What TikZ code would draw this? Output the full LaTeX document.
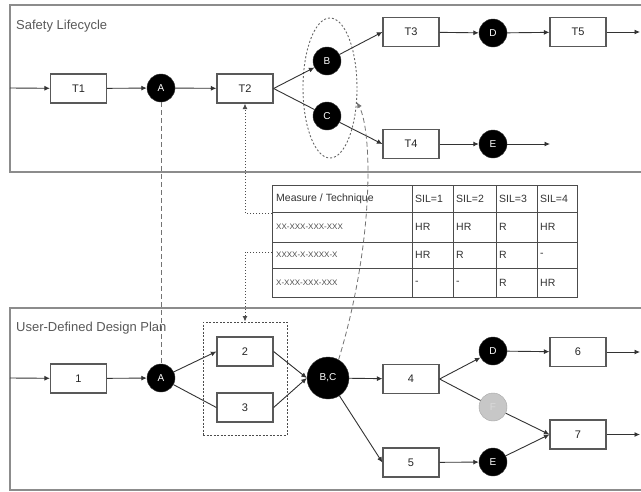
\documentclass[tikz,border=0pt]{standalone}
\usepackage{fontspec}
\setmainfont{Liberation Sans}
\usetikzlibrary{arrows.meta,shapes.geometric,calc}
\begin{document}
\begin{tikzpicture}[x=1pt,y=-1pt,
 box/.style={draw=black!65, line width=1.2pt, fill=white, minimum width=56pt, minimum height=29pt, inner sep=0pt, font=\fontsize{11}{12}\selectfont, text=black!85},
 ev/.style={circle, fill=black, draw=black!80, minimum size=28pt, inner sep=0pt, text=white, font=\fontsize{10}{11}\selectfont},
 flow/.style={draw=black!80, line width=0.9pt},
 arr/.style={flow, -{Latex[length=5.5pt,width=5pt]}},
 dotarr/.style={draw=black!70, line width=1pt, dotted, -{Latex[length=5.5pt,width=5pt]}},
 frame/.style={draw=black!45, line width=2pt},
 ttl/.style={anchor=west, text=black!65, font=\fontsize{13}{14}\selectfont, inner sep=0pt},
 th/.style={anchor=west, inner sep=0pt, text=black!80, font=\fontsize{10.5}{12}\selectfont},
 tx/.style={anchor=west, inner sep=0pt, text=black!70, font=\fontsize{8}{9}\selectfont},
]
\useasboundingbox (0,0) rectangle (641,491);
\fill[white] (0,0) rectangle (641,491);

% frames
\draw[frame] (641,5) -- (10,5) -- (10,172) -- (641,172);
\draw[frame] (641,308) -- (10,308) -- (10,490) -- (641,490);
\node[ttl] (t1) at (16,26) {Safety Lifecycle};
\node[ttl] (t2) at (16,328) {User-Defined Design Plan};

% ---- top lifecycle
\coordinate (in1) at (10,88);
\node[box] (T1) at (78.5,88.5) {T1};
\node[ev] (A1) at (161,88) {A};
\node[box] (T2) at (245,88.5) {T2};
\node[draw=black!60, line width=0.9pt, ellipse, dash pattern=on 2pt off 2pt, minimum width=54pt, minimum height=140pt, inner sep=0pt] (grp) at (330,88) {};
\node[ev] (B) at (327,61) {B};
\node[ev] (C) at (327,116) {C};
\node[box] (T3) at (411,32) {T3};
\node[ev] (D1) at (493,33) {D};
\node[box] (T5) at (578,32) {T5};
\coordinate (out1) at (640,32);
\node[box] (T4) at (411,144) {T4};
\node[ev] (E1) at (493,144) {E};
\coordinate (out2) at (550,144);

\draw[arr] (in1) -- (T1);
\draw[arr] (T1) -- (A1);
\draw[arr] (A1) -- (T2);
\draw[arr] (T2.east) -- (B);
\draw[flow] (T2.east) -- (C);
\draw[arr] (B) -- (T3.west);
\draw[arr] (C) -- (T4.west);
\draw[arr] (T3) -- (D1);
\draw[arr] (D1) -- (T5);
\draw[arr] (T5) -- (out1);
\draw[arr] (T4) -- (E1);
\draw[arr] (E1) -- (out2);

% ---- table
\node[draw=black!70, line width=1.2pt, minimum width=305pt, minimum height=112pt, anchor=north west, inner sep=0pt] (tab) at (272,185) {};
\foreach \yy in {212,242,268} \draw[black!70, line width=1pt] (272,\yy) -- (577,\yy);
\foreach \xx in {412,453,496,537} \draw[black!70, line width=1pt] (\xx,185) -- (\xx,297);
\node[th] (h0) at (276,198.5) {Measure / Technique};
\node[th] (h1) at (415,198.5) {SIL=1};
\node[th] (h2) at (456,198.5) {SIL=2};
\node[th] (h3) at (499,198.5) {SIL=3};
\node[th] (h4) at (540,198.5) {SIL=4};
\node[tx] (r1) at (276,227) {XX-XXX-XXX-XXX};
\node[tx] (r2) at (276,255) {XXXX-X-XXXX-X};
\node[tx] (r3) at (276,282.5) {X-XXX-XXX-XXX};
\node[th] (c11) at (415,227) {HR};
\node[th] (c12) at (456,227) {HR};
\node[th] (c13) at (499,227) {R};
\node[th] (c14) at (540,227) {HR};
\node[th] (c21) at (415,255) {HR};
\node[th] (c22) at (456,255) {R};
\node[th] (c23) at (499,255) {R};
\node[th] (c24) at (540,255) {-};
\node[th] (c31) at (415,282.5) {-};
\node[th] (c32) at (456,282.5) {-};
\node[th] (c33) at (499,282.5) {R};
\node[th] (c34) at (540,282.5) {HR};
\coordinate (tr1) at (272,213);
\coordinate (tr2) at (272,252);

% ---- bottom plan
\coordinate (in2) at (10,378);
\node[draw=black!70, line width=0.9pt, dash pattern=on 2pt off 1.5pt, minimum width=84pt, minimum height=113pt, inner sep=0pt] (grpb) at (245,378.5) {};
\node[box] (n1) at (78.5,378.5) {1};
\node[ev] (A2) at (161,378) {A};
\node[box] (n2) at (245,351.5) {2};
\node[box] (n3) at (245,407.5) {3};
\node[ev, minimum size=42pt] (BC) at (328,378) {B,C};
\node[box] (n4) at (411,379) {4};
\node[ev] (D2) at (493,351) {D};
\node[box] (n6) at (578,352) {6};
\node[ev, fill=black!22, draw=black!35, text=white!85!black] (F) at (493,407) {F};
\node[box] (n7) at (578,434.5) {7};
\node[box] (n5) at (411,462.5) {5};
\node[ev] (E2) at (493,462) {E};
\coordinate (out3) at (640,352);
\coordinate (out4) at (640,434.5);

\draw[arr] (in2) -- (n1);
\draw[arr] (n1) -- (A2);
\draw[arr] (A2) -- (n2.west);
\draw[flow] (A2) -- (n3.west);
\draw[arr] (n2.east) -- (BC.west);
\draw[arr] (n3.east) -- (BC.west);
\draw[arr] (BC) -- (n4);
\draw[arr] (BC) -- (n5.west);
\draw[arr] (n4.east) -- (D2);
\draw[flow] (n4.east) -- (F);
\draw[arr] (F) -- (n7.west);
\draw[arr] (E2) -- (n7.west);
\draw[arr] (n5) -- (E2);
\draw[arr] (D2) -- (n6);
\draw[arr] (n6) -- (out3);
\draw[arr] (n7) -- (out4);

% ---- cross links
\draw[draw=black!55, line width=0.8pt, dash pattern=on 5pt off 3pt] (A1) -- (A2);
\draw[dotarr] (tr1) -| (T2.south);
\draw[dotarr] (tr2) -| (grpb.north);
\draw[draw=black!55, line width=0.8pt, dash pattern=on 5pt off 3pt, -{Latex[length=5.5pt,width=5pt]}] (BC.60) .. controls (375,240) and (372,130) .. (grp.-28);
\end{tikzpicture}
\end{document}
